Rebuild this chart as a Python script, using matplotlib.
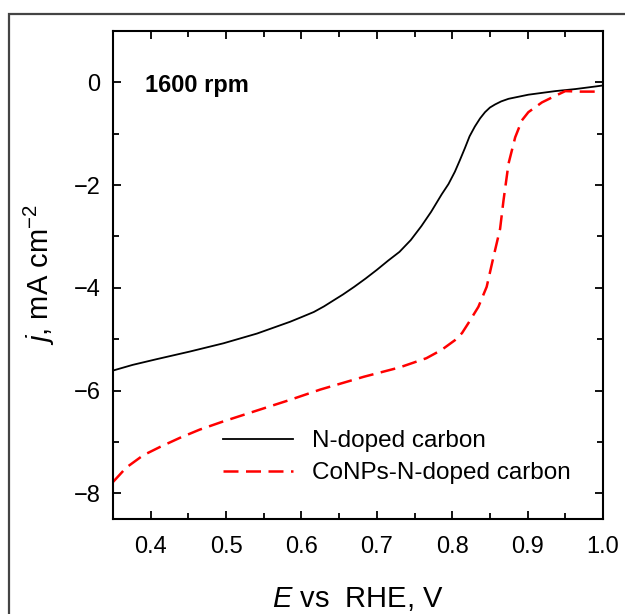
import matplotlib
matplotlib.use("Agg")
import matplotlib.pyplot as plt
from matplotlib.patches import Rectangle

plt.rcParams['font.family'] = ['Liberation Sans', 'DejaVu Sans']
plt.rcParams['mathtext.fontset'] = 'custom'
plt.rcParams['mathtext.rm'] = 'Liberation Sans'
plt.rcParams['mathtext.it'] = 'Liberation Sans:italic'

# N-doped carbon (solid black)
e_ndc = [0.35, 0.376, 0.4075, 0.452, 0.4964, 0.541, 0.585, 0.60, 0.6164, 0.63, 0.643,
         0.655, 0.67, 0.685, 0.70, 0.715, 0.73, 0.745, 0.759, 0.772, 0.786, 0.795,
         0.8035, 0.81, 0.8168, 0.823, 0.830, 0.837, 0.8435, 0.85, 0.8568, 0.865,
         0.8747, 0.901, 0.9368, 0.9635, 0.99, 1.00]
j_ndc = [-5.61, -5.50, -5.39, -5.24, -5.08, -4.89, -4.66, -4.57, -4.47, -4.36, -4.24,
         -4.13, -3.98, -3.82, -3.65, -3.47, -3.30, -3.07, -2.80, -2.52, -2.18, -1.98,
         -1.74, -1.52, -1.28, -1.05, -0.86, -0.70, -0.58, -0.49, -0.43, -0.37,
         -0.32, -0.24, -0.17, -0.13, -0.08, -0.06]

# CoNPs-N-doped carbon (dashed red)
e_co = [0.35, 0.3675, 0.39, 0.412, 0.4387, 0.465, 0.4964, 0.5364, 0.585, 0.625,
        0.683, 0.73, 0.7657, 0.7857, 0.8035, 0.813, 0.8213, 0.8347, 0.8457, 0.8547,
        0.8635, 0.868, 0.8747, 0.8835, 0.8924, 0.901, 0.919, 0.937, 0.950, 0.97, 1.00]
j_co = [-7.78, -7.50, -7.26, -7.10, -6.92, -6.76, -6.60, -6.41, -6.18, -5.98,
        -5.73, -5.55, -5.37, -5.21, -5.02, -4.88, -4.69, -4.37, -3.98, -3.40,
        -2.85, -2.30, -1.58, -1.07, -0.74, -0.58, -0.39, -0.26, -0.17, -0.18, -0.18]

labels = ['N-doped carbon', 'CoNPs-N-doped carbon']
x_ticks = [0.4, 0.5, 0.6, 0.7, 0.8, 0.9, 1.0]
y_ticks = [0, -2, -4, -6, -8]

fig = plt.figure(figsize=(6.25, 6.14), dpi=100)
# grey frame round the whole figure
fig.patches.append(Rectangle((9 / 625, -0.1), 1.2, 1 - 14 / 614 + 0.1,
                             transform=fig.transFigure, fill=False,
                             edgecolor='#444444', linewidth=1.6))

ax = fig.add_axes([113 / 625, 1 - 519 / 614, 490 / 625, 488 / 614])
ax.plot(e_ndc, j_ndc, color='black', lw=1.3, label=labels[0])
ax.plot(e_co, j_co, color='#ff0000', lw=1.8, dashes=(6, 3), label=labels[1])

ax.set_xlim(0.35, 1.0)
ax.set_ylim(-8.5, 1)
ax.set_xticks(x_ticks)
ax.set_xticklabels([f'{v:.1f}' for v in x_ticks])
ax.set_xticks([0.35, 0.45, 0.55, 0.65, 0.75, 0.85, 0.95], minor=True)
ax.set_yticks(y_ticks)
ax.set_yticks([1, -1, -3, -5, -7], minor=True)

for s in ax.spines.values():
    s.set_linewidth(1.5)
ax.tick_params(which='both', direction='in', top=True, right=True, width=1.3)
ax.tick_params(which='major', length=6, labelsize=17)
ax.tick_params(which='minor', length=4)
ax.tick_params(axis='x', pad=12)
ax.tick_params(axis='y', pad=9)

ax.set_xlabel(r'$E$ vs  RHE, V', fontsize=21, labelpad=20)
ax.set_ylabel(r'$j$, mA cm$^{-2}$', fontsize=21, labelpad=12)

ax.text(0.3927, -0.06, '1600 rpm', fontsize=17, fontweight='bold', va='center', ha='left')

ax.legend(loc='upper left', bbox_to_anchor=(0.2245, 0.182), frameon=False, fontsize=17.5,
          handlelength=2.9, handletextpad=0.75, labelspacing=0.42, borderpad=0,
          borderaxespad=0)

fig.savefig('out.png', dpi=100)
